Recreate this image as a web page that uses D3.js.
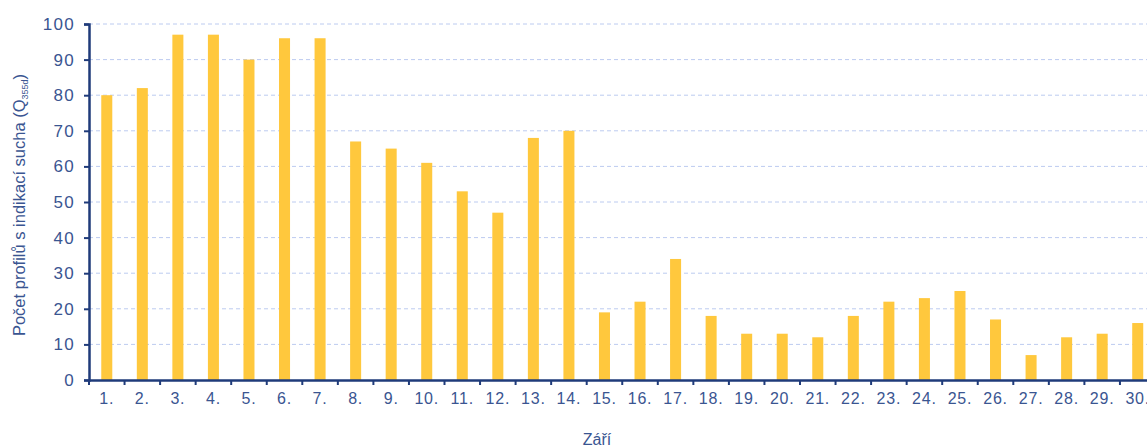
<!DOCTYPE html>
<html><head><meta charset="utf-8">
<script src="https://cdn.jsdelivr.net/npm/d3@7"></script>
<style>body{margin:0;background:#fff}svg{display:block}</style>
</head><body>
<svg id="c" width="1147" height="447"></svg>
<script>
const days = ["1.","2.","3.","4.","5.","6.","7.","8.","9.","10.","11.","12.","13.","14.","15.","16.","17.","18.","19.","20.","21.","22.","23.","24.","25.","26.","27.","28.","29.","30."];
const counts = [80,82,97,97,90,96,96,67,65,61,53,47,68,70,19,22,34,18,13,13,12,18,22,23,25,17,7,12,13,16];
const yTicks = [0,10,20,30,40,50,60,70,80,90,100];
const xTitle = "Září";

const svg = d3.select("#c");
const mLeft = 89, mTop = 24, mBottom = 380, bandW = 35.55;
const mRight = mLeft + bandW * days.length;
const x = d3.scaleBand().domain(days).range([mLeft, mRight]).paddingInner(0.69).paddingOuter(0.345);
const y = d3.scaleLinear().domain([0,100]).range([mBottom, mTop]);
const axisCol = "#1f3b7a", textCol = "#3a5591";
const font = "Liberation Sans, Arial, sans-serif";

// grid
svg.append("g").selectAll("line").data(yTicks.filter(d=>d>0)).join("line")
  .attr("x1", mLeft).attr("x2", 1147).attr("y1", d=>y(d)).attr("y2", d=>y(d))
  .attr("stroke", "#bccbf0").attr("stroke-width", 1).attr("stroke-dasharray", "4,3");

// bars
svg.append("g").selectAll("rect").data(counts).join("rect")
  .attr("x", (d,i)=>x(days[i])).attr("width", x.bandwidth())
  .attr("y", d=>y(d)).attr("height", d=>mBottom - y(d))
  .attr("fill", "#ffc83d");

// y axis
const ya = svg.append("g").attr("transform", `translate(${mLeft},0)`)
  .call(d3.axisLeft(y).tickValues(yTicks).tickSize(5).tickPadding(9));
ya.select(".domain").attr("stroke", axisCol).attr("stroke-width", 2.5);
ya.selectAll(".tick line").attr("stroke", axisCol).attr("stroke-width", 2);
ya.selectAll("text").attr("fill", textCol).attr("font-family", font).attr("font-size", 17)
  .attr("letter-spacing", 1.3).attr("font-weight", 500);

// x axis
const xa = svg.append("g").attr("transform", `translate(0,${mBottom})`)
  .call(d3.axisBottom(x).tickSize(0).tickPadding(13));
xa.select(".domain").attr("stroke", axisCol).attr("stroke-width", 2.5);
xa.selectAll("text").attr("fill", textCol).attr("font-family", font).attr("font-size", 16)
  .attr("letter-spacing", 0.8);
// boundary ticks between categories
const bounds = d3.range(days.length + 1).map(i => mLeft + i * x.step());
svg.append("g").selectAll("line").data(bounds).join("line")
  .attr("x1", d=>d).attr("x2", d=>d).attr("y1", mBottom).attr("y2", mBottom + 5)
  .attr("stroke", axisCol).attr("stroke-width", 2);

// titles
svg.append("text").attr("x", 597).attr("y", 445).attr("text-anchor", "middle")
  .attr("fill", textCol).attr("font-family", font).attr("font-size", 16).text(xTitle);

const yt = svg.append("text").attr("transform", "translate(25,205) rotate(-90)").attr("text-anchor", "middle")
  .attr("fill", textCol).attr("font-family", font).attr("font-size", 16.5);
yt.append("tspan").text("Počet profilů s indikací sucha (Q");
yt.append("tspan").attr("font-size", 9).attr("dy", 3).text("355d");
yt.append("tspan").attr("dy", -3).text(")");
</script>
</body></html>
